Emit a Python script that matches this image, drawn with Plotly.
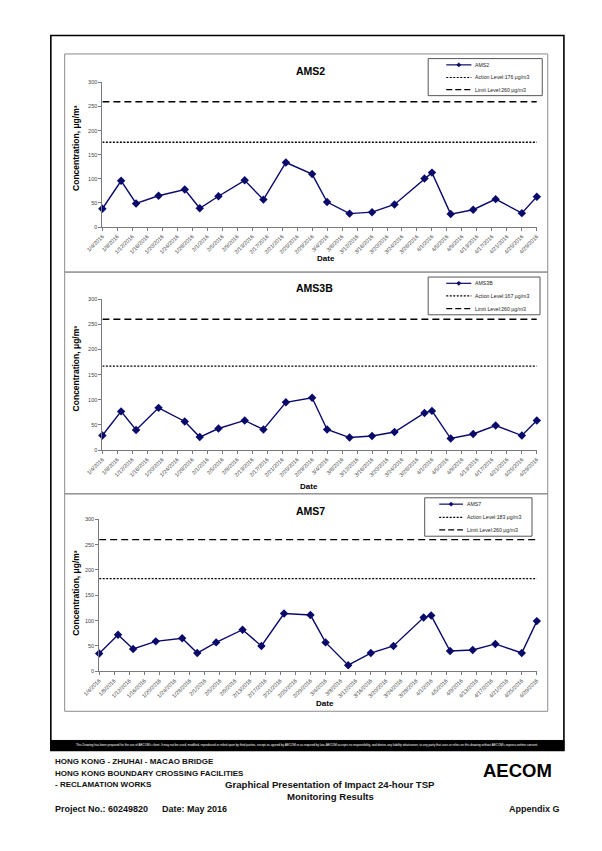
import plotly.graph_objects as go
import pandas as pd

W, H = 602, 851

# ---------------- data ----------------
sample_dates = ["2016-01-04", "2016-01-09", "2016-01-13", "2016-01-19", "2016-01-26",
                "2016-01-30", "2016-02-04", "2016-02-11", "2016-02-16", "2016-02-22",
                "2016-02-29", "2016-03-04", "2016-03-10", "2016-03-16", "2016-03-22",
                "2016-03-30", "2016-04-01", "2016-04-06", "2016-04-12", "2016-04-18",
                "2016-04-25", "2016-04-29"]
ams2 = [38, 96, 49, 65, 78, 39, 64, 97, 57, 134, 110, 52, 28, 31, 47, 101, 113, 27, 36, 58, 29, 63]
ams3b = [29, 77, 40, 84, 57, 26, 43, 59, 41, 95, 104, 41, 25, 28, 36, 74, 78, 23, 32, 49, 29, 59]
ams7 = [35, 72, 44, 59, 65, 36, 57, 82, 50, 114, 111, 57, 12, 36, 50, 106, 110, 40, 42, 54, 36, 99]
stations = ["AMS2", "AMS3B", "AMS7"]
series = [ams2, ams3b, ams7]
action_levels = [176, 167, 183]
limit_level = 260
tick_labels = ["1/4/2016", "1/8/2016", "1/12/2016", "1/16/2016", "1/20/2016", "1/24/2016",
               "1/28/2016", "2/1/2016", "2/5/2016", "2/9/2016", "2/13/2016", "2/17/2016",
               "2/21/2016", "2/25/2016", "2/29/2016", "3/4/2016", "3/8/2016", "3/12/2016",
               "3/16/2016", "3/20/2016", "3/24/2016", "3/28/2016", "4/1/2016", "4/5/2016",
               "4/9/2016", "4/13/2016", "4/17/2016", "4/21/2016", "4/25/2016", "4/29/2016"]
y_ticks = [0, 50, 100, 150, 200, 250, 300]
tick_vals = pd.to_datetime(tick_labels, format="%m/%d/%Y").strftime("%Y-%m-%d").tolist()

# ---------------- geometry (pixels) ----------------
def px(x):
    return x / W

def py(y):
    return 1 - y / H

panels = [
    dict(box=(49.3, 51.3, 549, 271), plot=(88.3, 80, 537.7, 225.7),
         title=(303.7, 68.3), ytitle=(61, 146), xtitle=(319.3, 257.3),
         legend=(425.3, 56, 543.3, 93.3), rows=(62.3, 75, 87.3), samp=(444, 470)),
    dict(box=(49.3, 271, 549, 494.3), plot=(88.3, 298.3, 537.7, 450.3),
         title=(307.3, 287.3), ytitle=(61, 368), xtitle=(301.7, 486.5),
         legend=(425.3, 276, 541, 314), rows=(282.3, 295, 307.7), samp=(444, 470)),
    dict(box=(49.3, 494.3, 549, 713.3), plot=(85, 520, 537.7, 673),
         title=(303.7, 511.3), ytitle=(61, 594), xtitle=(319, 705.5),
         legend=(421.7, 498.3, 532.7, 537), rows=(504.7, 518, 530.7), samp=(436.7, 461.3)),
]

FONT = "Arial, Liberation Sans, sans-serif"
NAVY = "#0a0a6b"
AX = "#7a7a7a"

fig = go.Figure()
shapes = []
annotations = []

# outer frame and disclaimer strip
shapes.append(dict(type="rect", xref="paper", yref="paper",
                   x0=px(35), y0=py(752.7), x1=px(565.7), y1=py(32.7),
                   line=dict(color="black", width=1.6), fillcolor="rgba(0,0,0,0)"))
shapes.append(dict(type="rect", xref="paper", yref="paper",
                   x0=px(35), y0=py(752.7), x1=px(565.7), y1=py(742.7),
                   line=dict(color="black", width=1), fillcolor="black"))

for i, p in enumerate(panels):
    n = "" if i == 0 else str(i + 1)
    xa, ya = "x" + n, "y" + n
    vals = series[i]
    fig.add_trace(go.Scatter(
        x=sample_dates, y=vals, mode="lines+markers", name=stations[i],
        line=dict(color=NAVY, width=1.4),
        marker=dict(symbol="diamond", size=6.5, color=NAVY),
        cliponaxis=False, showlegend=False, xaxis=xa, yaxis=ya))
    fig.add_trace(go.Scatter(
        x=[sample_dates[0], sample_dates[-1]], y=[action_levels[i]] * 2, mode="lines",
        line=dict(color="black", width=1.3, dash="2px,1.5px"),
        showlegend=False, xaxis=xa, yaxis=ya))
    fig.add_trace(go.Scatter(
        x=[sample_dates[0], sample_dates[-1]], y=[limit_level] * 2, mode="lines",
        line=dict(color="black", width=1.4, dash="7px,4px"),
        showlegend=False, xaxis=xa, yaxis=ya))

    x0, y0, x1, y1 = p["plot"]
    fig.update_layout(**{
        "xaxis" + n: dict(domain=[px(x0), px(x1)], anchor=ya, type="date",
                          range=[sample_dates[0], sample_dates[-1]],
                          tickmode="array", tickvals=tick_vals, ticktext=tick_labels,
                          tickangle=-45, ticks="outside", ticklen=3, tickcolor=AX,
                          showline=True, linecolor=AX, linewidth=1, showgrid=False,
                          zeroline=False, tickfont=dict(family=FONT, size=5.5, color="#444")),
        "yaxis" + n: dict(domain=[py(y1), py(y0)], anchor=xa, range=[0, 300],
                          tickmode="array", tickvals=y_ticks,
                          ticks="outside", ticklen=3, tickcolor=AX,
                          showline=True, linecolor=AX, linewidth=1, showgrid=False,
                          zeroline=False, tickfont=dict(family=FONT, size=5.5, color="#444")),
    })

    bx0, by0, bx1, by1 = p["box"]
    shapes.append(dict(type="rect", xref="paper", yref="paper",
                       x0=px(bx0), y0=py(by1), x1=px(bx1), y1=py(by0),
                       line=dict(color="#8c8c8c", width=1)))

    tx, ty = p["title"]
    annotations.append(dict(x=px(tx), y=py(ty), xref="paper", yref="paper",
                            text="<b>%s</b>" % stations[i], showarrow=False,
                            font=dict(family=FONT, size=10.5, color="black"),
                            xanchor="center", yanchor="middle"))
    yx, yy = p["ytitle"]
    annotations.append(dict(x=px(yx), y=py(yy), xref="paper", yref="paper",
                            text="<b>Concentration, μg/m³</b>", showarrow=False,
                            textangle=-90, font=dict(family=FONT, size=8.5, color="black"),
                            xanchor="center", yanchor="middle"))
    dx, dy = p["xtitle"]
    annotations.append(dict(x=px(dx), y=py(dy), xref="paper", yref="paper",
                            text="<b>Date</b>", showarrow=False,
                            font=dict(family=FONT, size=8, color="black"),
                            xanchor="center", yanchor="middle"))

    # legend box (drawn manually)
    lx0, ly0, lx1, ly1 = p["legend"]
    shapes.append(dict(type="rect", xref="paper", yref="paper",
                       x0=px(lx0), y0=py(ly1), x1=px(lx1), y1=py(ly0),
                       line=dict(color="#555", width=1), fillcolor="white"))
    s0, s1 = p["samp"]
    r1, r2, r3 = p["rows"]
    shapes.append(dict(type="line", xref="paper", yref="paper",
                       x0=px(s0), x1=px(s1), y0=py(r1), y1=py(r1),
                       line=dict(color=NAVY, width=1.2)))
    cx = (s0 + s1) / 2
    shapes.append(dict(type="path", xref="paper", yref="paper",
                       path="M %f %f L %f %f L %f %f L %f %f Z" % (
                           px(cx - 2.2), py(r1), px(cx), py(r1 - 2.2),
                           px(cx + 2.2), py(r1), px(cx), py(r1 + 2.2)),
                       fillcolor=NAVY, line=dict(color=NAVY, width=0.5)))
    shapes.append(dict(type="line", xref="paper", yref="paper",
                       x0=px(s0), x1=px(s1), y0=py(r2), y1=py(r2),
                       line=dict(color="black", width=1.1, dash="2px,1.5px")))
    shapes.append(dict(type="line", xref="paper", yref="paper",
                       x0=px(s0), x1=px(s1), y0=py(r3), y1=py(r3),
                       line=dict(color="black", width=1.3, dash="6px,3px")))
    labels = [stations[i], "Action Level:%d μg/m3" % action_levels[i],
              "Limit Level:%d μg/m3" % limit_level]
    for lab, r in zip(labels, (r1, r2, r3)):
        annotations.append(dict(x=px(s1 + 2), y=py(r), xref="paper", yref="paper",
                                text=lab, showarrow=False,
                                font=dict(family=FONT, size=5.2, color="#222"),
                                xanchor="left", yanchor="middle"))

# disclaimer in black strip
annotations.append(dict(
    x=px(300.3), y=py(747.7), xref="paper", yref="paper", showarrow=False,
    text=("This Drawing has been prepared for the use of AECOM's client. It may not be used, modified, "
          "reproduced or relied upon by third parties, except as agreed by AECOM or as required by law. "
          "AECOM accepts no responsibility, and denies any liability whatsoever, to any party that uses "
          "or relies on this drawing without AECOM's express written consent."),
    font=dict(family="Liberation Sans Narrow, " + FONT, size=3, color="white"),
    xanchor="center", yanchor="middle"))

# title block
def txt(x, y, s, size, anchor="left"):
    annotations.append(dict(x=px(x), y=py(y), xref="paper", yref="paper", showarrow=False,
                            text="<b>%s</b>" % s, xanchor=anchor, yanchor="middle",
                            font=dict(family=FONT, size=size, color="#111")))

txt(37, 763.5, "HONG KONG - ZHUHAI - MACAO BRIDGE", 8)
txt(37, 775.5, "HONG KONG BOUNDARY CROSSING FACILITIES", 8)
txt(37, 787.5, "- RECLAMATION WORKS", 8)
txt(324, 787, "Graphical Presentation of Impact 24-hour TSP", 9.6, "center")
txt(324, 799.5, "Monitoring Results", 9.6, "center")
txt(37, 811.5, "Project No.: 60249820", 9)
txt(148, 811.5, "Date: May 2016", 9)
txt(564, 811.5, "Appendix G", 9, "right")
annotations.append(dict(x=px(518), y=py(772.5), xref="paper", yref="paper", showarrow=False,
                        text="<b>AECOM</b>", xanchor="center", yanchor="middle",
                        font=dict(family=FONT, size=18.5, color="black")))

fig.update_layout(width=W, height=H, margin=dict(l=0, r=0, t=0, b=0),
                  paper_bgcolor="white", plot_bgcolor="rgba(0,0,0,0)",
                  shapes=shapes, annotations=annotations, showlegend=False)

fig.write_html("out.html", config={"displayModeBar": False},
               post_script="document.body.style.margin='0';document.body.style.padding='0';"
                           "document.body.style.overflow='hidden';")
